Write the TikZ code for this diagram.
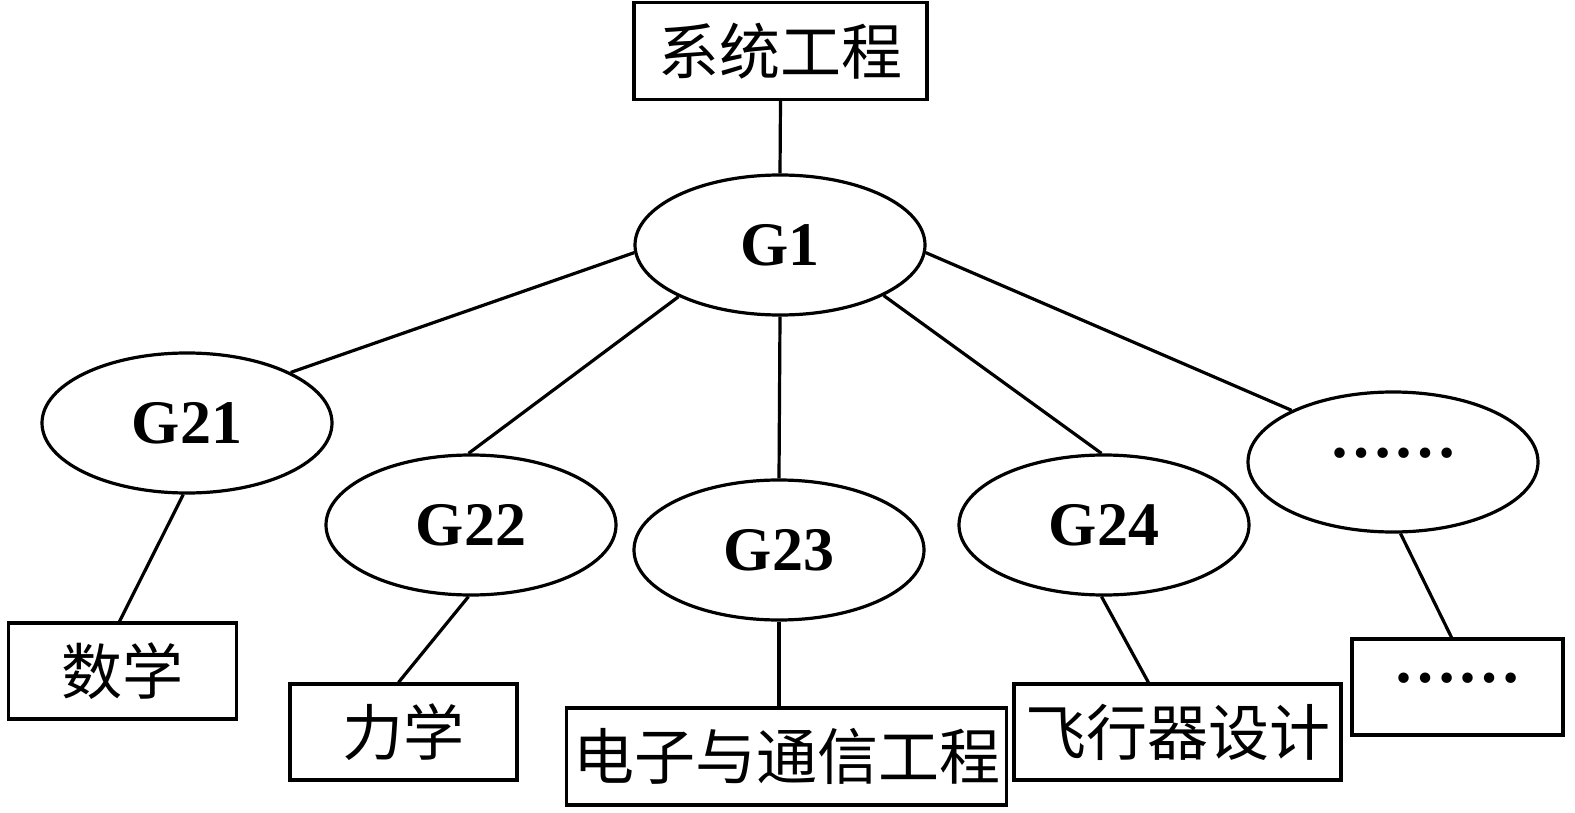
\documentclass[tikz,border=0pt]{standalone}
\usepackage{fontspec}
\setmainfont{Liberation Serif}
\newfontfamily\cjk{Noto Sans CJK SC}
\usetikzlibrary{shapes.geometric,calc}
\tikzset{
  lw/.style={line width=3.2pt},
  ell/.style={lw, draw, ellipse, minimum width=290pt, minimum height=140pt, inner sep=0pt,
    font=\fontsize{62}{66}\selectfont\bfseries},
  bx/.style={lw, draw, inner sep=0pt, font=\fontsize{61}{64}\selectfont\cjk},
  dots/.style={font=\fontsize{64}{66}\selectfont\bfseries},
  conn/.style={lw}
}
\begin{document}
\begin{tikzpicture}[x=1pt,y=-1pt]
\useasboundingbox (0,0) rectangle (1575,813);
% boxes
\node[bx, minimum width=293pt, minimum height=97pt] (top) at (780.5,51) {系统工程};
\node[bx, minimum width=228pt, minimum height=96pt] (shu) at (122.5,671) {数学};
\node[bx, minimum width=227pt, minimum height=96pt] (li) at (403.5,732) {力学};
\node[bx, minimum width=440pt, minimum height=97pt] (dz) at (786.5,756.5) {电子与通信工程};
\node[bx, minimum width=327pt, minimum height=96pt] (fx) at (1177.5,732) {飞行器设计};
\node[bx, dots, minimum width=211pt, minimum height=96pt] (db) at (1457.5,687) {\raisebox{0.3em}{……}};
% ellipses
\node[ell] (G1) at (780,245) {G1};
\node[ell] (G21) at (187,423) {G21};
\node[ell] (G22) at (471,525) {G22};
\node[ell] (G23) at (779,550) {G23};
\node[ell] (G24) at (1104,525) {G24};
\node[ell, dots] (Gd) at (1393,462) {\raisebox{0.3em}{……}};
% connectors
\draw[conn] (top.south) -- (G1.north);
\draw[conn] (G1.183) -- (G21.26);
\draw[conn] (G1.207) -- (G22.92);
\draw[conn] (G1.south) -- (G23.north);
\draw[conn] (G1.334) -- (G24.92);
\draw[conn] (G1.357) -- (Gd.153);
\draw[conn] (G21.267) -- ([xshift=-3pt]shu.north);
\draw[conn] (G22.268) -- ([xshift=-5pt]li.north);
\draw[conn] (G23.south) -- (G23.south |- dz.north);
\draw[conn] (G24.268) -- ([xshift=136pt]fx.north west);
\draw[conn] (Gd.276) -- ([xshift=-6pt]db.north);
\end{tikzpicture}
\end{document}
